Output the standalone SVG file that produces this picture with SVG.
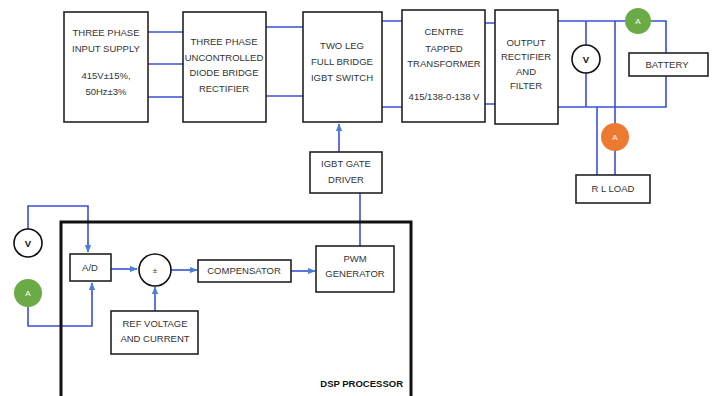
<svg xmlns="http://www.w3.org/2000/svg" width="715" height="396" viewBox="0 0 715 396">
<style>
.box{fill:#fff;stroke:#222;stroke-width:1.6}
.w{fill:none;stroke:#3a4fd6;stroke-width:1.6}
.t{font-family:"Liberation Sans",Arial,sans-serif;font-size:9.5px;fill:#333;text-anchor:middle}
.ta{font-family:"Liberation Sans",Arial,sans-serif;font-size:8px;fill:#fff;text-anchor:middle}
.meter{fill:#fff;stroke:#111;stroke-width:1.6}
</style>
<defs>
<marker id="ar" viewBox="0 0 10 10" refX="9" refY="5" markerWidth="5" markerHeight="5" orient="auto">
<path d="M0,1 L10,5 L0,9 z" fill="#4a7fd6"/>
</marker>
</defs>
<g id="connectors">
<path class="w" d="M148,32H183M148,64H183M148,97H183"/>
<path class="w" d="M266,27H303M266,96H303"/>
<path class="w" d="M382,21H402M382,107H402"/>
<path class="w" d="M485,23H495M485,104H495"/>
<path class="w" d="M558,21H625M651,21H666V53M666,76V107H558"/>
<path class="w" d="M586,21V45M586,73V107"/>
<path class="w" d="M615,21V123M615,151V175"/>
<path class="w" d="M597,107V175"/>
<path class="w" d="M339,152V124" marker-end="url(#ar)"/>
<path class="w" d="M360,193V246"/>
<path class="w" d="M28,229V206H88V252" marker-end="url(#ar)"/>
<path class="w" d="M28,307V326H92V283" marker-end="url(#ar)"/>
<path class="w" d="M111,269H137" marker-end="url(#ar)"/>
<path class="w" d="M171,270H197" marker-end="url(#ar)"/>
<path class="w" d="M291,271H315" marker-end="url(#ar)"/>
<path class="w" d="M155,311V287" marker-end="url(#ar)"/>
</g>
<g id="dsp">
<rect x="61" y="222" width="350" height="180" fill="none" stroke="#111" stroke-width="3"/>
<text class="t" x="403" y="387" style="text-anchor:end;font-weight:bold;fill:#111">DSP PROCESSOR</text>
</g>
<g id="input">
<rect class="box" x="64" y="12" width="84" height="110"/>
<text class="t" x="106" y="36">THREE PHASE</text>
<text class="t" x="106" y="52">INPUT SUPPLY</text>
<text class="t" x="106" y="79">415V±15%,</text>
<text class="t" x="106" y="95">50Hz±3%</text>
</g>
<g id="rectifier">
<rect class="box" x="183" y="12" width="83" height="110"/>
<text class="t" x="224" y="45">THREE PHASE</text>
<text class="t" x="224" y="61">UNCONTROLLED</text>
<text class="t" x="224" y="76">DIODE BRIDGE</text>
<text class="t" x="224" y="92">RECTIFIER</text>
</g>
<g id="igbt">
<rect class="box" x="303" y="12" width="79" height="110"/>
<text class="t" x="342" y="49">TWO LEG</text>
<text class="t" x="342" y="65">FULL BRIDGE</text>
<text class="t" x="342" y="81">IGBT SWITCH</text>
</g>
<g id="transformer">
<rect class="box" x="402" y="10" width="83" height="112"/>
<text class="t" x="444" y="35">CENTRE</text>
<text class="t" x="444" y="52">TAPPED</text>
<text class="t" x="444" y="67">TRANSFORMER</text>
<text class="t" x="444" y="100">415/138-0-138 V</text>
</g>
<g id="output">
<rect class="box" x="495" y="10" width="63" height="114"/>
<text class="t" x="526" y="46">OUTPUT</text>
<text class="t" x="526" y="60">RECTIFIER</text>
<text class="t" x="526" y="75">AND</text>
<text class="t" x="526" y="89">FILTER</text>
</g>
<g id="voltmeter-out">
<circle class="meter" cx="586" cy="59" r="14"/>
<text class="t" x="586" y="63" style="font-weight:bold;fill:#111">V</text>
</g>
<g id="ammeter-bat">
<circle cx="638" cy="21" r="13" fill="#6aab45"/>
<text class="ta" x="638" y="24">A</text>
</g>
<g id="battery">
<rect class="box" x="629" y="53" width="79" height="23"/>
<text class="t" x="667" y="68">BATTERY</text>
</g>
<g id="ammeter-load">
<circle cx="615" cy="137" r="14" fill="#ec7a30"/>
<text class="ta" x="615" y="140">A</text>
</g>
<g id="rlload">
<rect class="box" x="576" y="175" width="74" height="28"/>
<text class="t" x="613" y="192">R L LOAD</text>
</g>
<g id="gatedriver">
<rect class="box" x="310" y="152" width="72" height="41"/>
<text class="t" x="346" y="167">IGBT GATE</text>
<text class="t" x="346" y="183">DRIVER</text>
</g>
<g id="pwm">
<rect class="box" x="316" y="246" width="78" height="46"/>
<text class="t" x="355" y="262">PWM</text>
<text class="t" x="355" y="277">GENERATOR</text>
</g>
<g id="voltmeter-in">
<circle class="meter" cx="28" cy="243" r="14"/>
<text class="t" x="28" y="247" style="font-weight:bold;fill:#111">V</text>
</g>
<g id="ammeter-in">
<circle cx="28" cy="293" r="14" fill="#6aab45"/>
<text class="ta" x="28" y="296">A</text>
</g>
<g id="ad">
<rect class="box" x="70" y="254" width="41" height="27"/>
<text class="t" x="90" y="271">A/D</text>
</g>
<g id="summer">
<circle class="meter" cx="155" cy="270" r="16"/>
<text class="t" x="155" y="273" style="font-size:8px">±</text>
</g>
<g id="compensator">
<rect class="box" x="198" y="260" width="93" height="22"/>
<text class="t" x="244" y="274">COMPENSATOR</text>
</g>
<g id="ref">
<rect class="box" x="111" y="311" width="87" height="43"/>
<text class="t" x="155" y="327">REF VOLTAGE</text>
<text class="t" x="155" y="342">AND CURRENT</text>
</g>
</svg>
